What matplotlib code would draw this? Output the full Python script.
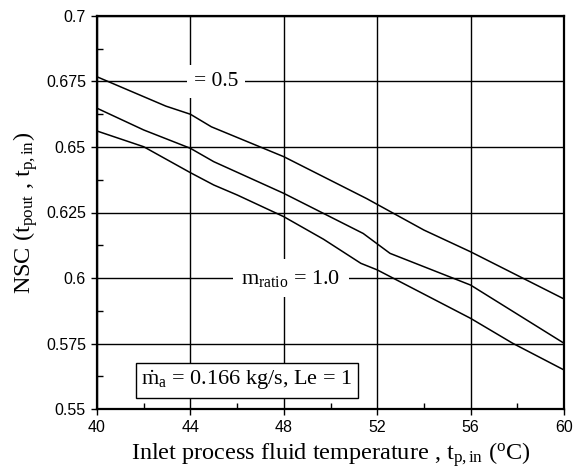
import matplotlib
matplotlib.use("Agg")
import matplotlib.pyplot as plt
from matplotlib.ticker import MultipleLocator, FuncFormatter

plt.rcParams['font.family'] = 'Liberation Sans'
plt.rcParams['mathtext.fontset'] = 'custom'
plt.rcParams['mathtext.rm'] = 'Liberation Serif'
plt.rcParams['mathtext.it'] = 'Liberation Serif:italic'

# curves (m_ratio = 0.5 at top, 1.0 at bottom)
x_top = [40, 42.95, 44, 44.9, 48, 51.55, 54.0, 56.0, 60]
y_top = [0.6768, 0.6656, 0.6625, 0.6577, 0.6463, 0.6303, 0.6183, 0.6100, 0.5920]
x_mid = [40, 42.0, 44, 45.0, 48, 51.4, 52.55, 56.0, 60]
y_mid = [0.6648, 0.6565, 0.6495, 0.6444, 0.6323, 0.6170, 0.6094, 0.5973, 0.5751]
x_bot = [40, 42.0, 44, 45.0, 46.0, 48, 49.7, 51.3, 52.0, 56.0, 57.8, 60]
y_bot = [0.6561, 0.6501, 0.6402, 0.6355, 0.6317, 0.6234, 0.6148, 0.6056, 0.6031, 0.5846, 0.5751, 0.5649]

fig = plt.figure(figsize=(5.74, 4.76), dpi=100)
ax = fig.add_axes([97/574, 1-409/476, 467/574, 393/476])

for xs, ys in [(x_top, y_top), (x_mid, y_mid), (x_bot, y_bot)]:
    ax.plot(xs, ys, color='black', lw=1.1, zorder=3)

ax.set_xlim(40, 60)
ax.set_ylim(0.55, 0.7)
ax.xaxis.set_major_locator(MultipleLocator(4))
ax.xaxis.set_minor_locator(MultipleLocator(2))
ax.yaxis.set_major_locator(MultipleLocator(0.025))
ax.yaxis.set_minor_locator(MultipleLocator(0.0125))
ax.yaxis.set_major_formatter(FuncFormatter(lambda v, p: '%g' % round(v, 4)))
ax.grid(True, which='major', color='black', lw=1.0, zorder=1)
ax.tick_params(which='major', direction='out', length=4, width=1, labelsize=11.5, pad=4)
ax.tick_params(which='minor', direction='in', length=4, width=1)
for s in ax.spines.values():
    s.set_linewidth(1.6)

serif = 'Liberation Serif'
ax.text(45.1, 0.675, '= 0.5', family=serif, fontsize=15.5, ha='center', va='center',
        bbox=dict(facecolor='white', edgecolor='none', pad=5), zorder=4)
ax.text(48.3, 0.6, r'$\mathrm{m}_{\mathrm{ratio}}$ = 1.0', family=serif, fontsize=16,
        ha='center', va='center', bbox=dict(facecolor='white', edgecolor='none', pad=6), zorder=4)
ax.text(41.9, 0.561, r'$\dot{\mathrm{m}}_{\mathrm{a}}$ = 0.166 kg/s, Le = 1', family=serif,
        fontsize=16, ha='left', va='center',
        bbox=dict(facecolor='white', edgecolor='black', lw=1, pad=4), zorder=4)

ax.set_xlabel(r'Inlet process fluid temperature , $\mathrm{t}_{\mathrm{p,in}}$ ($^{\mathrm{o}}$C)',
              family=serif, fontsize=17.5, labelpad=4)
ax.set_ylabel(r'NSC ($\mathrm{t}_{\mathrm{pout}}$ , $\mathrm{t}_{\mathrm{p,in}}$)',
              family=serif, fontsize=17.5, labelpad=4)

fig.savefig('out.png', dpi=100)
